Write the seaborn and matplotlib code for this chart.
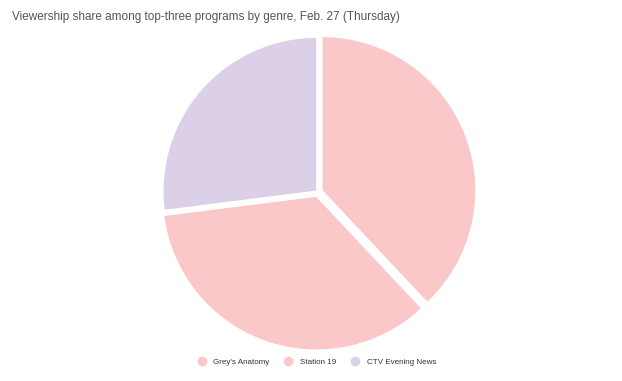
import matplotlib.pyplot as plt
import seaborn as sns
from matplotlib.lines import Line2D

# Viewership share data
programs = ["Grey's Anatomy", "Station 19", "CTV Evening News"]
shares = [38, 35, 27]
colors = ["#fac8c9", "#fac8c9", "#dcd0e8"]

sns.set_theme(style="white")
plt.rcParams['font.family'] = ['Liberation Sans', 'DejaVu Sans']

fig = plt.figure(figsize=(6.22, 3.81), dpi=100)
ax = fig.add_axes([0.246, 0.063, 0.530, 0.866])

wedges, _ = ax.pie(shares, colors=colors, startangle=90, counterclock=False,
                   explode=[0.028, 0.028, 0.008],
                   wedgeprops=dict(edgecolor='white', linewidth=1.0))
ax.set_xlim(-1.07, 1.07)
ax.set_ylim(-1.07, 1.07)
ax.set_aspect('equal')

# Title
fig.text(0.019, 0.955, 'Viewership share among top-three programs by genre, Feb. 27 (Thursday)',
         fontsize=8.5, color='#555555', ha='left', va='center')

# Legend with round markers
handles = [Line2D([0], [0], marker='o', linestyle='', markersize=6,
                  markerfacecolor=c, markeredgecolor=c) for c in colors]
fig.legend(handles, programs, loc='center', bbox_to_anchor=(0.506, 0.05), ncol=3,
           frameon=False, fontsize=5.8, handletextpad=0.4, columnspacing=1.4,
           labelcolor='#333333')

plt.savefig('out.png', dpi=100)
